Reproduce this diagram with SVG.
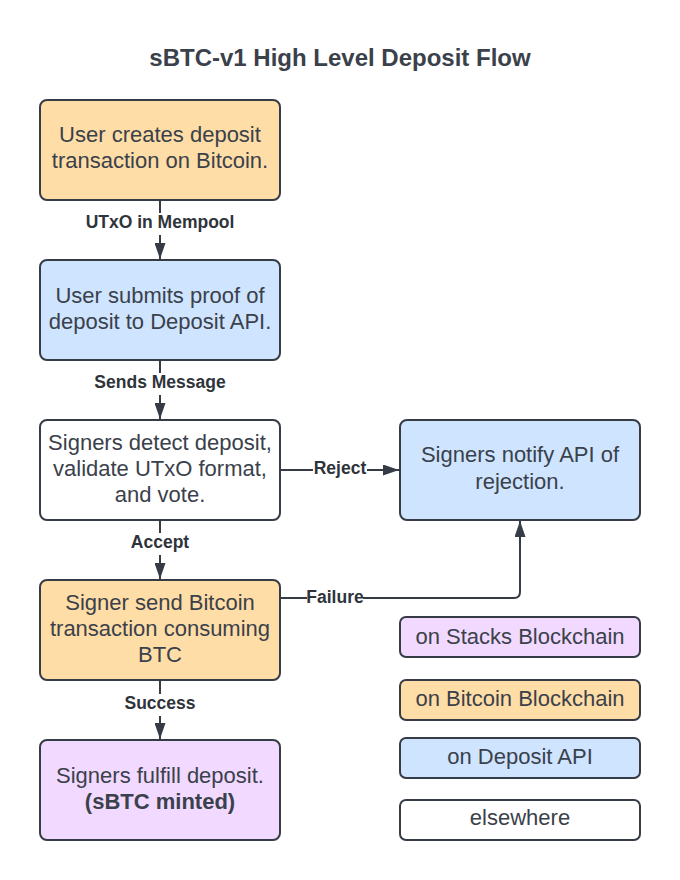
<svg xmlns="http://www.w3.org/2000/svg" width="680" height="880" viewBox="0 0 680 880">
<style>
  .box { stroke: #363c46; stroke-width: 2; }
  .orange { fill: #FFDDA6; }
  .blue { fill: #CFE4FF; }
  .purple { fill: #F2D9FF; }
  .white { fill: #FFFFFF; }
  .t { font-family: "Liberation Sans", Arial, sans-serif; font-size: 22px; fill: #3a414b; text-anchor: middle; }
  .b { font-weight: bold; }
  .title { font-family: "Liberation Sans", Arial, sans-serif; font-size: 24px; font-weight: bold; fill: #3a414b; text-anchor: middle; }
  .lbl { font-family: "Liberation Sans", Arial, sans-serif; font-size: 17.5px; font-weight: bold; fill: #2f343b; text-anchor: middle; }
  .conn { stroke: #363c46; stroke-width: 2; fill: none; }
  .bg { fill: #FFFFFF; }
</style>
<defs>
  <marker id="arrow" markerUnits="userSpaceOnUse" markerWidth="16" markerHeight="11" refX="16" refY="5.5" orient="auto">
    <path d="M0,0 L16,5.5 L0,11 z" fill="#363c46"/>
  </marker>
</defs>
<rect width="680" height="880" fill="#FFFFFF"/>
<text class="title" x="340" y="66">sBTC-v1 High Level Deposit Flow</text>

<g id="connectors">
  <path class="conn" d="M160,200 V259" marker-end="url(#arrow)"/>
  <rect class="bg" x="82" y="213" width="156" height="22"/>
  <text class="lbl" x="160" y="228">UTxO in Mempool</text>

  <path class="conn" d="M160,360 V419" marker-end="url(#arrow)"/>
  <rect class="bg" x="92" y="373" width="136" height="22"/>
  <text class="lbl" x="160" y="388">Sends Message</text>

  <path class="conn" d="M160,520 V579" marker-end="url(#arrow)"/>
  <rect class="bg" x="129" y="533" width="62" height="22"/>
  <text class="lbl" x="160" y="548">Accept</text>

  <path class="conn" d="M160,680 V739" marker-end="url(#arrow)"/>
  <rect class="bg" x="124" y="694" width="72" height="22"/>
  <text class="lbl" x="160" y="709">Success</text>

  <path class="conn" d="M280,470 H399" marker-end="url(#arrow)"/>
  <rect class="bg" x="313" y="459" width="54" height="22"/>
  <text class="lbl" x="340" y="474">Reject</text>

  <path class="conn" d="M280,598 H514 Q520,598 520,592 V521" stroke-width="1.6" marker-end="url(#arrow)"/>
  <rect class="bg" x="307" y="588" width="56" height="20"/>
  <text class="lbl" x="335" y="603">Failure</text>
</g>

<g id="node-create">
  <rect class="box orange" x="40" y="100" width="240" height="100" rx="7"/>
  <text class="t" x="160" y="142">User creates deposit</text>
  <text class="t" x="160" y="168">transaction on Bitcoin.</text>
</g>
<g id="node-submit">
  <rect class="box blue" x="40" y="260" width="240" height="100" rx="7"/>
  <text class="t" x="160" y="303">User submits proof of</text>
  <text class="t" x="160" y="329">deposit to Deposit API.</text>
</g>
<g id="node-detect">
  <rect class="box white" x="40" y="420" width="240" height="100" rx="7"/>
  <text class="t" x="160" y="450">Signers detect deposit,</text>
  <text class="t" x="160" y="476">validate UTxO format,</text>
  <text class="t" x="160" y="502">and vote.</text>
</g>
<g id="node-notify">
  <rect class="box blue" x="400" y="420" width="240" height="100" rx="7"/>
  <text class="t" x="520" y="462">Signers notify API of</text>
  <text class="t" x="520" y="489">rejection.</text>
</g>
<g id="node-send">
  <rect class="box orange" x="40" y="580" width="240" height="100" rx="7"/>
  <text class="t" x="160" y="610">Signer send Bitcoin</text>
  <text class="t" x="160" y="636">transaction consuming</text>
  <text class="t" x="160" y="662">BTC</text>
</g>
<g id="node-fulfill">
  <rect class="box purple" x="40" y="740" width="240" height="100" rx="7"/>
  <text class="t" x="160" y="783">Signers fulfill deposit.</text>
  <text class="t b" x="160" y="809">(sBTC minted)</text>
</g>

<g id="legend-stacks">
  <rect class="box purple" x="400" y="617" width="240" height="40" rx="6"/>
  <text class="t" x="520" y="644">on Stacks Blockchain</text>
</g>
<g id="legend-bitcoin">
  <rect class="box orange" x="400" y="680" width="240" height="40" rx="6"/>
  <text class="t" x="520" y="706">on Bitcoin Blockchain</text>
</g>
<g id="legend-api">
  <rect class="box blue" x="400" y="738" width="240" height="40" rx="6"/>
  <text class="t" x="520" y="764">on Deposit API</text>
</g>
<g id="legend-elsewhere">
  <rect class="box white" x="400" y="800" width="240" height="40" rx="6"/>
  <text class="t" x="520" y="825">elsewhere</text>
</g>
</svg>
